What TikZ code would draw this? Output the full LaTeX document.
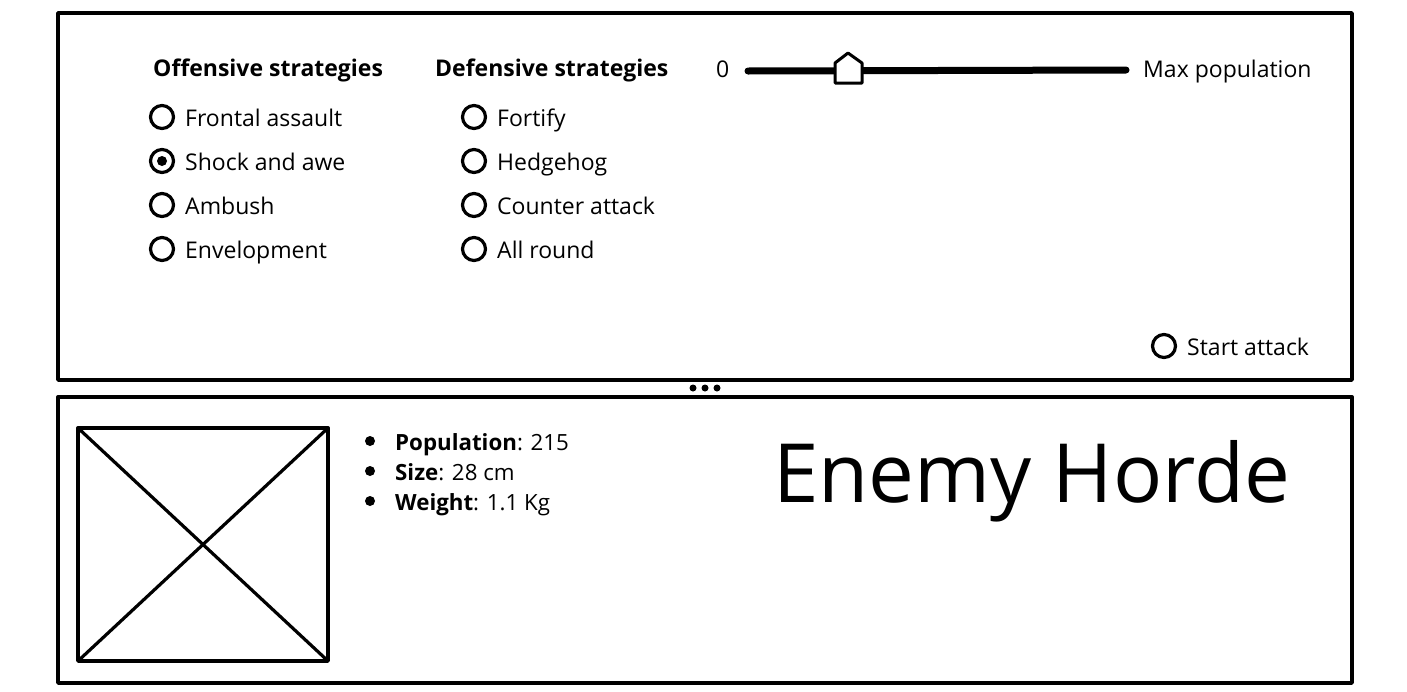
\documentclass[tikz,border=0pt]{standalone}
\usepackage{fontspec}
\setmainfont{Open Sans}
\begin{document}
\begin{tikzpicture}[x=1pt,y=-1pt,
  frame/.style={line width=3.4pt, line join=round, line cap=round},
  radio/.style={circle, draw, line width=3.2pt, minimum size=23pt, inner sep=0pt},
  lbl/.style={anchor=base west, inner sep=0pt, font=\fontsize{23}{27}\selectfont},
  head/.style={anchor=base west, inner sep=0pt, font=\fontsize{23}{27}\selectfont\bfseries},
  info/.style={anchor=base west, inner sep=0pt, font=\fontsize{22.3}{26}\selectfont},
  dot/.style={circle, fill, inner sep=0pt, minimum size=#1}
 ]
\useasboundingbox (0,0) rectangle (1407,691);
% panels
\coordinate (p1a) at (58,13);
\coordinate (p1b) at (1352,13);
\coordinate (p1c) at (1352,380);
\coordinate (p1d) at (58,380);
\coordinate (p2a) at (58,397);
\coordinate (p2b) at (1352,397);
\coordinate (p2c) at (1352,683);
\coordinate (p2d) at (58,683);
\draw[frame] (p1d) -- (p1a) -- (p1b) -- (p1c) -- cycle;
\draw[frame] (p2d) -- (p2a) -- (p2b) -- (p2c) -- cycle;
\node[dot=7pt] (d1) at (693,388) {};
\node[dot=7pt] (d2) at (705,388) {};
\node[dot=7pt] (d3) at (717,388) {};
% headings
\node[head] (hoff) at (153,76) {Offensive strategies};
\node[head] (hdef) at (435,76) {Defensive strategies};
% offensive radios
\node[radio] (r1) at (162,117) {};
\node[lbl] (t1) at (185,126) {Frontal assault};
\node[radio] (r2) at (162,161) {};
\node[dot=10pt] (r2d) at (r2) {};
\node[lbl] (t2) at (185,170) {Shock and awe};
\node[radio] (r3) at (162,205) {};
\node[lbl] (t3) at (185,214) {Ambush};
\node[radio] (r4) at (162,249) {};
\node[lbl] (t4) at (185,258) {Envelopment};
% defensive radios
\node[radio] (s1) at (474,117) {};
\node[lbl] (u1) at (497,126) {Fortify};
\node[radio] (s2) at (474,161) {};
\node[lbl] (u2) at (497,170) {Hedgehog};
\node[radio] (s3) at (474,205) {};
\node[lbl] (u3) at (497,214) {Counter attack};
\node[radio] (s4) at (474,249) {};
\node[lbl] (u4) at (497,258) {All round};
% slider
\node[lbl] (zero) at (716,77) {0};
\coordinate (sl0) at (748,71);
\coordinate (sl1) at (1126,70);
\draw[line width=7pt, line cap=round] (sl0) -- (sl1);
\draw[line width=3pt, line join=round, fill=white] (835,83) -- (835,63) -- (848,53) -- (862,63) -- (862,83) -- cycle;
\node[lbl] (maxp) at (1143,77) {Max population};
% start attack
\node[radio] (sa) at (1164,346) {};
\node[lbl] (tsa) at (1187,355) {Start attack};
% image placeholder
\coordinate (ia) at (78,428);
\coordinate (ib) at (328,428);
\coordinate (ic) at (328,661);
\coordinate (id) at (78,661);
\draw[frame] (ia) -- (ib) -- (ic) -- (id) -- cycle;
\draw[line width=3.2pt] (ia) -- (ic);
\draw[line width=3.2pt] (ib) -- (id);
% info list
\node[dot=10pt] (b1) at (370,441) {};
\node[info] (i1) at (395,450) {\textbf{Population}: 215};
\node[dot=10pt] (b2) at (370,471) {};
\node[info] (i2) at (395,480) {\textbf{Size}: 28 cm};
\node[dot=10pt] (b3) at (370,501) {};
\node[info] (i3) at (395,510) {\textbf{Weight}: 1.1 Kg};
% title
\node[anchor=base west, inner sep=0pt, font=\fontsize{81.7}{86}\selectfont] (title) at (773,502) {Enemy Horde};
\end{tikzpicture}
\end{document}
